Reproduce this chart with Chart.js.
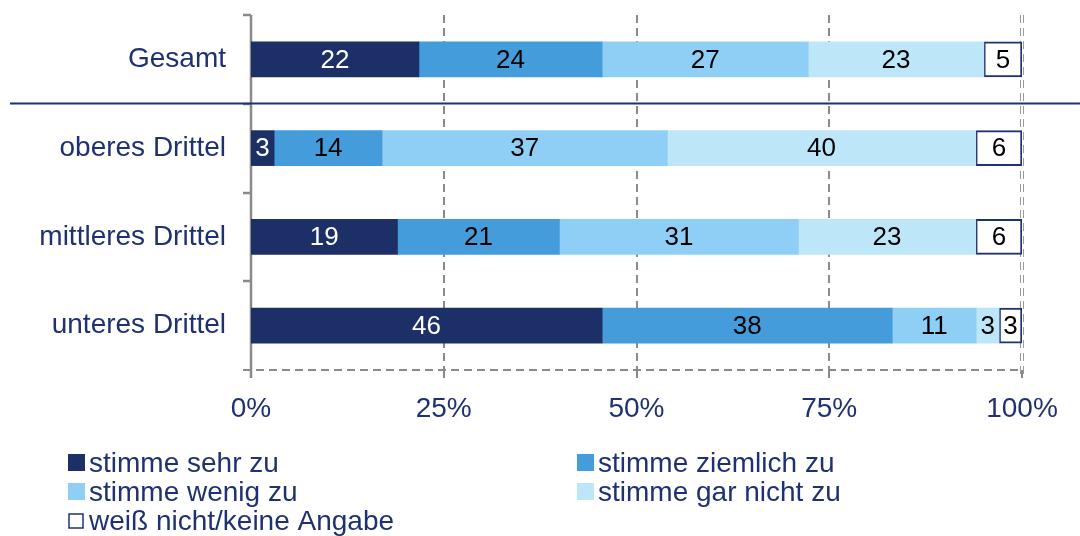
<!DOCTYPE html>
<html>
<head>
<meta charset="utf-8">
<script src="https://cdn.jsdelivr.net/npm/chart.js@4/dist/chart.umd.min.js"></script>
<style>
  html, body { margin: 0; padding: 0; background: #fff; }
  #wrap { width: 1080px; height: 536px; position: relative; }
</style>
</head>
<body>
<div id="wrap"><canvas id="chart" width="1080" height="536"></canvas></div>
<script>
// categories and series (values as printed in the chart, per cent)
const groups = ['Gesamt', 'oberes Drittel', 'mittleres Drittel', 'unteres Drittel'];
const seriesNames = ['stimme sehr zu', 'stimme ziemlich zu', 'stimme wenig zu', 'stimme gar nicht zu', 'weiß nicht/keine Angabe'];
const sehrZu     = [22, 3, 19, 46];
const ziemlichZu = [24, 14, 21, 38];
const wenigZu    = [27, 37, 31, 11];
const garNichtZu = [23, 40, 23, 3];
const weissNicht = [5, 6, 6, 3];
const xTicks = [0, 25, 50, 75, 100];

const navy = '#1f3170';
const colors = ['#1c2f66', '#449cdb', '#8fcff5', '#bde7f9', '#ffffff'];
const font = '"Liberation Sans", Arial, sans-serif';

const allSeries = [sehrZu, ziemlichZu, wenigZu, garNichtZu, weissNicht];
// rows are scaled to 100 % because rounded values do not always add up
const rowSums = groups.map((g, i) => allSeries.reduce((s, a) => s + a[i], 0));

const datasets = allSeries.map((arr, k) => ({
  label: seriesNames[k],
  data: arr.map((v, i) => v / rowSums[i] * 100),
  raw: arr,
  backgroundColor: colors[k],
  borderColor: k === 4 ? navy : colors[k],
  borderWidth: k === 4 ? 2 : 0,
  borderSkipped: false,
  barThickness: 35
}));

const deco = {
  id: 'deco',
  beforeDatasetsDraw(chart) {
    const { ctx, chartArea: a, scales: { x, y } } = chart;
    ctx.save();
    // vertical dashed grid lines
    ctx.strokeStyle = '#8a8a8a';
    ctx.lineWidth = 2;
    ctx.setLineDash([8, 5]);
    [25, 50, 75].forEach(v => {
      const px = Math.round(x.getPixelForValue(v));
      ctx.beginPath(); ctx.moveTo(px, a.top); ctx.lineTo(px, a.bottom + 8); ctx.stroke();
    });
    // 100 % double line
    ctx.lineWidth = 1;
    ctx.strokeStyle = '#9a9a9a';
    const p100 = Math.round(x.getPixelForValue(100));
    [-1.5, 1.5].forEach(d => {
      ctx.beginPath(); ctx.moveTo(p100 + d, a.top); ctx.lineTo(p100 + d, a.bottom + 8); ctx.stroke();
    });
    // bottom dashed axis with ticks
    ctx.lineWidth = 2;
    ctx.strokeStyle = '#8a8a8a';
    ctx.beginPath(); ctx.moveTo(a.left - 8, a.bottom); ctx.lineTo(p100, a.bottom); ctx.stroke();
    ctx.setLineDash([]);
    xTicks.forEach(v => {
      const px = Math.round(x.getPixelForValue(v));
      ctx.beginPath(); ctx.moveTo(px, a.bottom); ctx.lineTo(px, a.bottom + 8); ctx.stroke();
    });
    // left axis with category boundary ticks
    ctx.lineWidth = 2.5;
    ctx.beginPath(); ctx.moveTo(a.left, a.top); ctx.lineTo(a.left, a.bottom + 8); ctx.stroke();
    const step = (a.bottom - a.top) / groups.length;
    for (let i = 0; i < groups.length; i++) {
      const py = Math.round(a.top + i * step);
      ctx.beginPath(); ctx.moveTo(a.left - 8, py); ctx.lineTo(a.left, py); ctx.stroke();
    }
    // separator below "Gesamt"
    ctx.strokeStyle = navy;
    ctx.lineWidth = 2;
    const sy = Math.round(a.top + step) - 0.5;
    ctx.beginPath(); ctx.moveTo(10, sy); ctx.lineTo(1080, sy); ctx.stroke();
    ctx.restore();
  },
  afterDatasetsDraw(chart) {
    const { ctx } = chart;
    ctx.save();
    ctx.font = '26px ' + font;
    ctx.textAlign = 'center';
    ctx.textBaseline = 'middle';
    chart.data.datasets.forEach((ds, k) => {
      chart.getDatasetMeta(k).data.forEach((el, i) => {
        ctx.fillStyle = k === 0 ? '#ffffff' : '#000000';
        ctx.fillText(String(ds.raw[i]), (el.x + el.base) / 2, el.y + 1);
      });
    });
    ctx.restore();
  },
  afterDraw(chart) {
    const { ctx } = chart;
    ctx.save();
    ctx.font = '28px ' + font;
    ctx.textBaseline = 'middle';
    const cols = [68, 577];
    const rows = [463, 492, 521];
    seriesNames.forEach((name, k) => {
      const cx = cols[k % 2];
      const cy = rows[Math.floor(k / 2)];
      if (k === 4) {
        ctx.fillStyle = '#fff';
        ctx.strokeStyle = navy;
        ctx.lineWidth = 1.5;
        ctx.fillRect(cx + 1, cy - 7, 14, 14);
        ctx.strokeRect(cx + 1, cy - 7, 14, 14);
      } else {
        ctx.fillStyle = colors[k];
        ctx.fillRect(cx, cy - 9, 17, 17);
      }
      ctx.fillStyle = navy;
      ctx.fillText(name, cx + 21, cy + 1);
    });
    ctx.restore();
  }
};

new Chart(document.getElementById('chart'), {
  type: 'bar',
  data: { labels: groups, datasets },
  options: {
    indexAxis: 'y',
    responsive: false,
    animation: false,
    layout: { padding: { top: 15, right: 58, left: 0, bottom: 0 } },
    plugins: { legend: { display: false }, tooltip: { enabled: false } },
    scales: {
      x: {
        stacked: true,
        min: 0, max: 100,
        afterBuildTicks: s => { s.ticks = xTicks.map(v => ({ value: v })); },
        afterFit: s => { s.height = 166; s.paddingLeft = 0; s.paddingRight = 0; },
        grid: { display: false },
        border: { display: false },
        ticks: { callback: v => v + '%', color: navy, font: { size: 28, family: font }, padding: 14, maxRotation: 0 }
      },
      y: {
        stacked: true,
        afterFit: s => { s.width = 251; s.paddingTop = 0; s.paddingBottom = 0; },
        grid: { display: false },
        border: { display: false },
        ticks: { color: navy, font: { size: 28, family: font }, padding: 17 }
      }
    }
  },
  plugins: [deco]
});
</script>
</body>
</html>
